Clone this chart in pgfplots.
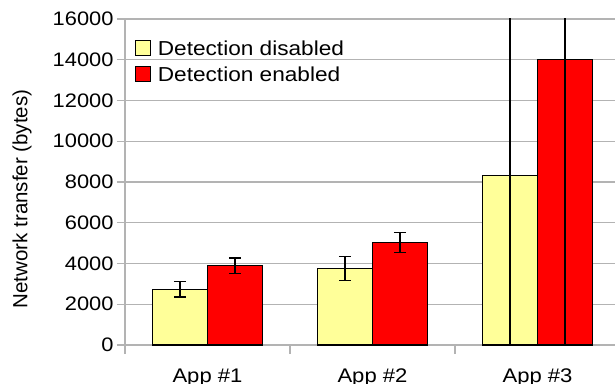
\documentclass[border=0pt]{standalone}
\usepackage{fontspec}
\setmainfont{Liberation Sans}
\newfontfamily\wide{Liberation Sans}[FakeStretch=1.12]
\usepackage{pgfplots}
\pgfplotsset{compat=1.18}
\definecolor{bary}{HTML}{FFFF99}
\definecolor{barr}{HTML}{FF0000}
\definecolor{gridc}{HTML}{B3B3B3}
\pgfplotsset{sq legend/.style={legend image code/.code={\draw[##1, draw=black, line width=1.2bp] (0bp,-5.5bp) rectangle (15bp,9.5bp);}}}
\begin{document}
\begin{tikzpicture}
\useasboundingbox (-125bp,-39bp) rectangle (490bp,345bp);
\begin{axis}[
  at={(0,0)}, anchor=south west,
  scale only axis, width=495bp, height=326bp,
  xmin=-0.5, xmax=2.5, ymin=0, ymax=16000,
  ybar=0pt, bar width=55bp,
  axis x line*=bottom, axis y line*=left,
  axis line style={gridc, line width=1.2bp},
  ytick={0,2000,...,16000},
  scaled y ticks=false,
  ymajorgrids, grid style={gridc, line width=1.2bp},
  xtick={0,1,2}, xticklabels={App \#1, App \#2, App \#3},
  minor xtick={-0.5,0.5,1.5,2.5},
  tick align=outside,
  major tick length=8bp, minor tick length=9bp,
  major x tick style={draw=none},
  ytick style={gridc, line width=1.2bp},
  minor x tick style={gridc, line width=1.2bp},
  /pgf/number format/assume math mode=true, /pgf/number format/1000 sep={},
  yticklabel style={font=\wide\fontsize{19.5bp}{23bp}\selectfont, text=black},
  xticklabel style={font=\wide\fontsize{19.7bp}{23bp}\selectfont, text=black, anchor=base, yshift=-29bp},
  ylabel={Network transfer (bytes)},
  every axis y label/.style={at={(axis description cs:-0.208,0.448)}, rotate=90, anchor=center, font=\fontsize{20.5bp}{24bp}\selectfont},
  legend style={at={(axis description cs:0.0202,0.9356)}, anchor=north west, draw=none, fill=none, inner sep=0pt, row sep=6bp, column sep=6.5bp, font=\wide\fontsize{20.2bp}{24bp}\selectfont, nodes={inner sep=0pt, text height=15bp, text depth=4bp}},
  legend cell align=left,
  error bars/y dir=both, error bars/y explicit,
  error bars/error bar style={black, line width=1.5bp},
  error bars/error mark options={black, line width=1.5bp, mark size=6bp, rotate=90},
]
\addplot[fill=bary, draw=black, line width=1.5bp, sq legend] coordinates {
  (0,2730) +- (0,375)
  (1,3760) +- (0,590)
  (2,8310) +- (0,9000)
};
\addlegendentry{Detection disabled}
\addplot[fill=barr, draw=black, line width=1.5bp, sq legend] coordinates {
  (0,3890) +- (0,377)
  (1,5030) +- (0,500)
  (2,14000) +- (0,15000)
};
\addlegendentry{Detection enabled}
\end{axis}
\end{tikzpicture}
\end{document}
